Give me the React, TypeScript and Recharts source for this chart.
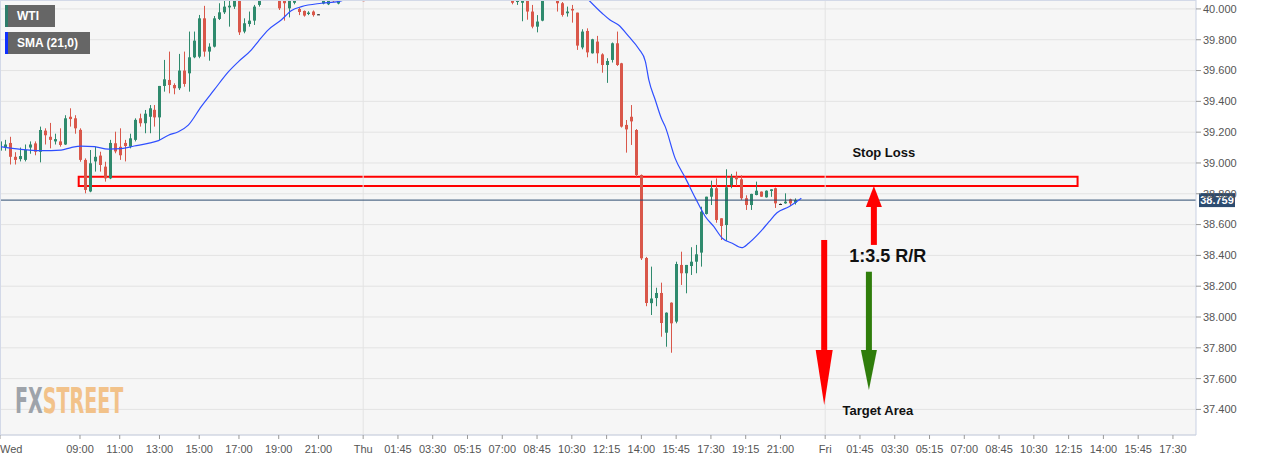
import {
  Bar,
  CartesianGrid,
  ComposedChart,
  Line,
  ReferenceArea,
  ReferenceDot,
  ReferenceLine,
  XAxis,
  YAxis,
} from "recharts";

// 15-minute slots; Wed 05:00 = slot 0, Thu 00:00 = slot 73, Fri 00:00 = slot 166
const candleSlot = [
  0, 1, 2, 3, 4, 5, 6, 7, 8, 9, 10, 11, 12, 13, 14, 15, 16, 17, 18, 19, 20, 21, 22, 23, 24, 25, 26,
  27, 28, 29, 30, 31, 32, 33, 34, 35, 36, 37, 38, 39, 40, 41, 42, 43, 44, 45, 46, 47, 48, 49, 50, 51,
  52, 56, 57, 58, 59, 60, 61, 62, 63, 64, 65, 66, 67, 68, 73, 103, 104, 105, 106, 107, 108, 109, 112,
  113, 114, 115, 116, 117, 118, 119, 120, 121, 122, 123, 124, 125, 126, 127, 128, 129, 130, 131, 132,
  133, 134, 135, 136, 137, 138, 139, 140, 141, 142, 143, 144, 145, 146, 147, 148, 149, 150, 151, 152,
  153, 154, 155, 156, 157, 158, 159, 160,
];
const candleOpen = [
  39.08, 39.1, 39.13, 39.04, 39.025, 39.02, 39.1, 39.127, 39.073, 39.21, 39.17, 39.14, 39.14, 39.12,
  39.3, 39.29, 39.215, 39.02, 38.815, 39.01, 39.048, 38.976, 38.9, 39.128, 39.105, 39.13, 39.106, 39.15,
  39.29, 39.258, 39.3, 39.345, 39.296, 39.5, 39.539, 39.506, 39.485, 39.6, 39.582, 39.686, 39.69,
  39.939, 39.723, 39.755, 39.935, 39.978, 40.01, 40.015, 40.08, 39.853, 39.902, 39.924, 40.026, 40.08,
  40.07, 40.004, 40.04, 40.0, 39.987, 39.967, 39.983, 39.965, 40.035, 40.03, 40.1, 40.035, 40.12, 40.06,
  40.045, 40.04, 40.07, 39.983, 39.885, 39.924, 40.09, 40.037, 39.972, 40.0, 39.976, 39.75, 39.857,
  39.712, 39.788, 39.705, 39.636, 39.669, 39.777, 39.647, 39.247, 39.3, 39.214, 38.922, 38.383, 38.09,
  38.123, 38.156, 37.898, 38.093, 37.97, 38.338, 38.284, 38.331, 38.359, 38.418, 38.669, 38.781,
  38.836, 38.641, 38.597, 38.857, 38.911, 38.894, 38.771, 38.727, 38.792, 38.814, 38.777, 38.818,
  38.836, 38.734, 38.738, 38.764, 38.742,
];
const candleHigh = [
  39.16, 39.15, 39.17, 39.07, 39.1, 39.12, 39.14, 39.14, 39.236, 39.225, 39.26, 39.19, 39.225, 39.31,
  39.355, 39.31, 39.225, 39.03, 39.084, 39.106, 39.073, 39.008, 39.15, 39.203, 39.225, 39.15, 39.19,
  39.29, 39.32, 39.344, 39.376, 39.376, 39.5, 39.669, 39.723, 39.517, 39.708, 39.723, 39.853, 39.853,
  39.961, 40.02, 39.777, 39.954, 40.037, 40.052, 40.06, 40.09, 40.1, 39.939, 39.983, 40.026, 40.1, 40.1,
  40.1, 40.1, 40.1, 40.01, 39.99, 39.985, 39.99, 39.967, 40.12, 40.1, 40.12, 40.12, 40.14, 40.07, 40.07,
  40.08, 40.09, 40.026, 39.96, 40.1, 40.12, 40.045, 40.015, 40.026, 39.976, 39.868, 39.874, 39.806,
  39.825, 39.712, 39.68, 39.782, 39.853, 39.65, 39.279, 39.376, 39.22, 38.925, 38.39, 38.327, 38.19,
  38.223, 38.03, 38.095, 38.359, 38.424, 38.338, 38.453, 38.468, 38.716, 38.781, 38.885, 38.9, 38.641,
  38.959, 38.929, 38.944, 38.92, 38.79, 38.8, 38.879, 38.815, 38.822, 38.829, 38.84, 38.736, 38.803,
  38.768, 38.77,
];
const candleLow = [
  39.04, 39.08, 38.99, 38.99, 39.01, 39.01, 39.06, 39.05, 39.004, 39.12, 39.095, 39.12, 39.106, 39.117,
  39.236, 39.19, 39.008, 38.803, 38.81, 38.944, 38.944, 38.879, 38.895, 39.063, 39.02, 39.01, 39.095,
  39.14, 39.236, 39.193, 39.193, 39.236, 39.149, 39.463, 39.452, 39.446, 39.474, 39.495, 39.463, 39.68,
  39.68, 39.69, 39.664, 39.75, 39.928, 39.967, 39.885, 40.0, 39.831, 39.842, 39.885, 39.896, 40.015,
  39.993, 39.924, 39.945, 40.03, 39.96, 39.95, 39.96, 39.95, 39.964, 40.03, 40.025, 40.045, 40.03,
  40.045, 40.03, 40.026, 39.92, 39.93, 39.874, 39.848, 39.92, 39.983, 39.95, 39.95, 39.911, 39.734,
  39.738, 39.686, 39.71, 39.647, 39.586, 39.52, 39.652, 39.63, 39.23, 39.067, 39.117, 38.91, 38.37,
  38.07, 38.013, 38.07, 37.872, 37.807, 37.768, 37.959, 38.208, 38.154, 38.273, 38.284, 38.327, 38.665,
  38.727, 38.612, 38.5, 38.495, 38.836, 38.851, 38.76, 38.695, 38.695, 38.79, 38.78, 38.775, 38.78,
  38.708, 38.732, 38.735, 38.72, 38.73,
];
const candleClose = [
  39.14, 39.12, 39.04, 39.02, 39.045, 39.085, 39.12, 39.073, 39.214, 39.18, 39.15, 39.155, 39.117, 39.29,
  39.285, 39.225, 39.02, 38.825, 38.998, 39.04, 38.987, 38.9, 39.13, 39.075, 39.05, 39.11, 39.16, 39.28,
  39.258, 39.32, 39.355, 39.296, 39.5, 39.543, 39.506, 39.485, 39.6, 39.513, 39.686, 39.794, 39.939,
  39.723, 39.755, 39.939, 39.978, 40.015, 40.021, 40.07, 39.848, 39.907, 39.924, 40.015, 40.07, 40.004,
  40.037, 40.07, 40.08, 39.98, 39.957, 39.976, 39.96, 39.965, 40.1, 40.09, 40.05, 40.1, 40.05, 40.04,
  40.055, 40.06, 39.983, 39.885, 39.918, 40.08, 40.037, 39.961, 39.983, 39.99, 39.762, 39.853, 39.718,
  39.803, 39.712, 39.636, 39.662, 39.777, 39.636, 39.236, 39.218, 39.27, 38.922, 38.381, 38.091, 38.12,
  38.156, 37.961, 38.028, 37.959, 38.344, 38.284, 38.338, 38.359, 38.407, 38.684, 38.781, 38.836, 38.63,
  38.591, 38.842, 38.907, 38.894, 38.771, 38.727, 38.799, 38.82, 38.781, 38.82, 38.829, 38.738, 38.734,
  38.749, 38.738, 38.759,
];

// SMA(21); null where it runs above the chart
const smaSlot = [
  0, 4.1, 8.2, 12.2, 14.2, 16.2, 18.9, 21.7, 24.3, 26.9, 29.7, 31.8, 33.8, 35.8, 37.8, 40.4, 43, 45.9,
  47.9, 50.5, 51.9, 53.9, 56.5, 58.6, 60.6, 64.6, 68, 69.3, 90, 118.4, 121.1, 122.7, 124.4, 126.5,
  128.5, 129.8, 130.5, 131.8, 133, 133.8, 135.8, 137.9, 139.9, 141.9, 143.6, 145.3, 147.3, 149.2,
  150.6, 152.7, 154.7, 156.3, 158.7, 161.2,
];
const smaValue = [
  39.106, 39.088, 39.08, 39.084, 39.1, 39.11, 39.106, 39.09, 39.093, 39.11, 39.127, 39.145, 39.18,
  39.203, 39.246, 39.366, 39.474, 39.593, 39.658, 39.734, 39.79, 39.864, 39.928, 39.99, 40.015, 40.037,
  40.048, 40.06, null, 40.058, 39.972, 39.928, 39.896, 39.82, 39.74, 39.66, 39.539, 39.409, 39.292,
  39.236, 39.03, 38.9, 38.77, 38.651, 38.586, 38.511, 38.479, 38.45, 38.479, 38.544, 38.619, 38.677,
  38.716, 38.771,
];

const tickSlot = [
  -0.1, 16, 24, 32, 40, 48, 56, 64, 73, 80, 87, 94, 101, 108, 115, 122, 129, 136, 143, 150, 157, 166,
  173, 180, 187, 194, 201, 208, 215, 222, 229, 236,
];
const tickLabel = [
  "Wed", "09:00", "11:00", "13:00", "15:00", "17:00", "19:00", "21:00", "Thu", "01:45", "03:30",
  "05:15", "07:00", "08:45", "10:30", "12:15", "14:00", "15:45", "17:30", "19:15", "21:00", "Fri",
  "01:45", "03:30", "05:15", "07:00", "08:45", "10:30", "12:15", "14:00", "15:45", "17:30",
];
const dayStarts = [73, 166];
const priceTicks = [
  37.4, 37.6, 37.8, 38.0, 38.2, 38.4, 38.6, 38.8, 39.0, 39.2, 39.4, 39.6, 39.8, 40.0,
];
const lastPrice = 38.759;

// trade idea drawn on the chart
const stopZone = { x1: 15.74, x2: 216.8, y1: 38.851, y2: 38.911 };
const stopLabel = { x: 177.8, y: 39.068 };
const rrLabel = { x: 178.6, y: 38.393 };
const targetLabel = { x: 176.6, y: 37.39 };
const targetArrow = { x: 165.8, from: 38.5, to: 37.429 };
const rewardArrow = { x: 174.8, from: 38.294, to: 37.526 };
const riskArrow = { x: 175.8, from: 38.468, to: 38.851 };

const GREEN = "#2f8a6d";
const RED = "#d9574a";
const FONT = "'Liberation Sans', Arial, sans-serif";

const candles = candleSlot.map((s, i) => ({
  s,
  o: candleOpen[i],
  h: candleHigh[i],
  l: candleLow[i],
  c: candleClose[i],
}));
const sma = smaSlot.map((s, i) => ({ s, v: smaValue[i] }));

function Candle(props: any) {
  const { x, y, width, height, payload } = props;
  const { o, h, l, c } = payload;
  const cx = Math.round(x + width / 2) + 0.5;
  const span = h - l;
  const yOf = (v: number) => (span > 0 ? y + ((h - v) / span) * height : y);
  const color = o === c ? "#222" : c > o ? GREEN : RED;
  const top = yOf(Math.max(o, c));
  const bot = yOf(Math.min(o, c));
  return (
    <g>
      <line x1={cx} x2={cx} y1={y} y2={y + height} stroke={color} strokeWidth={1} />
      <rect x={cx - 1.5} y={top} width={3} height={Math.max(bot - top, 1)} fill={color} />
    </g>
  );
}

const arrow =
  (color: string, head: number, headW: number, shaft: number) => (p: any) => {
    const { x1, y1, x2, y2 } = p;
    const dir = y2 > y1 ? 1 : -1;
    const hy = y2 - dir * head;
    return (
      <g>
        <rect
          x={x1 - shaft / 2}
          y={Math.min(y1, hy)}
          width={shaft}
          height={Math.abs(hy - y1)}
          fill={color}
        />
        <polygon
          points={`${x2 - headW / 2},${hy} ${x2 + headW / 2},${hy} ${x2},${y2}`}
          fill={color}
        />
      </g>
    );
  };

const note = (text: string, size: number) => (p: any) => (
  <text
    x={p.cx}
    y={p.cy}
    textAnchor="middle"
    dominantBaseline="central"
    fontFamily={FONT}
    fontWeight="bold"
    fontSize={size}
    fill="#111"
  >
    {text}
  </text>
);

function TimeTick(props: any) {
  const { x, y, payload } = props;
  const i = tickSlot.indexOf(payload.value);
  return (
    <text
      x={i === 0 ? 0 : x}
      y={y}
      dy={9}
      textAnchor={i === 0 ? "start" : "middle"}
      fontFamily={FONT}
      fontSize={11}
      fill="#555"
    >
      {tickLabel[i]}
    </text>
  );
}

function PriceTag(props: any) {
  const { viewBox } = props;
  const x = viewBox.x + viewBox.width + 3;
  const y = viewBox.y;
  return (
    <g>
      <rect x={x} y={y - 7} width={36} height={14} fill="#2c4b70" />
      <text
        x={x + 18}
        y={y}
        textAnchor="middle"
        dominantBaseline="central"
        fontFamily={FONT}
        fontWeight="bold"
        fontSize={11}
        fill="#fff"
      >
        {lastPrice.toFixed(3)}
      </text>
    </g>
  );
}

const legendBox = (label: string, strip: string, top: number, width: number) => (
  <div
    style={{
      position: "absolute",
      left: 5,
      top,
      width,
      height: 22,
      background: "#666",
      borderLeft: `3px solid ${strip}`,
      boxSizing: "border-box",
      color: "#fff",
      fontFamily: FONT,
      fontWeight: "bold",
      fontSize: 12,
      lineHeight: "22px",
      paddingLeft: 9,
    }}
  >
    {label}
  </div>
);

export default function App() {
  return (
    <div
      style={{
        position: "absolute",
        left: 0,
        top: 0,
        width: 1267,
        height: 460,
        background: "#fff",
      }}
    >
      <ComposedChart
        width={1267}
        height={460}
        data={candles}
        margin={{ top: 0, right: 0, bottom: 0, left: 0 }}
      >
        <CartesianGrid vertical={false} stroke="#e3e3e3" fill="#f6f6f6" />
        <XAxis
          dataKey="s"
          type="number"
          domain={[-0.1, 240.64]}
          ticks={tickSlot}
          interval={0}
          tick={<TimeTick />}
          tickSize={4}
          tickMargin={5}
          height={25}
          axisLine={{ stroke: "#c9d1e3" }}
          tickLine={{ stroke: "#999" }}
        />
        <YAxis
          orientation="right"
          type="number"
          domain={[37.234, 40.058]}
          allowDataOverflow
          ticks={priceTicks}
          tickFormatter={(v: number) => v.toFixed(3)}
          tick={{ fontSize: 11, fill: "#555", fontFamily: FONT }}
          tickSize={5}
          tickMargin={2}
          width={71}
          axisLine={{ stroke: "#c9d1e3" }}
          tickLine={{ stroke: "#999" }}
        />
        {dayStarts.map((d) => (
          <ReferenceLine key={d} x={d} stroke="#e3e3e3" />
        ))}
        <ReferenceLine y={lastPrice} stroke="#2b4a6f" label={<PriceTag />} />
        <Bar
          dataKey={(d: any) => [d.l, d.h]}
          barSize={5}
          shape={<Candle />}
          isAnimationActive={false}
        />
        <Line
          data={sma}
          dataKey="v"
          type="monotone"
          stroke="#2f4fff"
          strokeWidth={1.2}
          dot={false}
          activeDot={false}
          isAnimationActive={false}
        />
        <ReferenceArea
          x1={stopZone.x1}
          x2={stopZone.x2}
          y1={stopZone.y1}
          y2={stopZone.y2}
          fill="none"
          fillOpacity={0}
          stroke="#ff0000"
          strokeWidth={2}
        />
        <ReferenceLine
          segment={[
            { x: targetArrow.x, y: targetArrow.from },
            { x: targetArrow.x, y: targetArrow.to },
          ]}
          shape={arrow("#ff0000", 55, 17, 6)}
        />
        <ReferenceLine
          segment={[
            { x: rewardArrow.x, y: rewardArrow.from },
            { x: rewardArrow.x, y: rewardArrow.to },
          ]}
          shape={arrow("#2f7d0b", 40, 16, 6)}
        />
        <ReferenceLine
          segment={[
            { x: riskArrow.x, y: riskArrow.from },
            { x: riskArrow.x, y: riskArrow.to },
          ]}
          shape={arrow("#ff0000", 21, 16, 6)}
        />
        <ReferenceDot x={stopLabel.x} y={stopLabel.y} r={0} shape={note("Stop Loss", 13)} />
        <ReferenceDot x={rrLabel.x} y={rrLabel.y} r={0} shape={note("1:3.5 R/R", 18)} />
        <ReferenceDot x={targetLabel.x} y={targetLabel.y} r={0} shape={note("Target Area", 13)} />
      </ComposedChart>
      {legendBox("WTI", "#2e7d6a", 5, 50)}
      {legendBox("SMA (21,0)", "#1030ff", 32, 85)}
      <div
        style={{
          position: "absolute",
          left: 15,
          top: 381,
          fontFamily: "'DejaVu Sans', sans-serif",
          fontWeight: "bold",
          fontSize: 36,
          lineHeight: "40px",
          transform: "scaleX(0.53)",
          transformOrigin: "left top",
          letterSpacing: 0,
          pointerEvents: "none",
        }}
      >
        <span style={{ color: "#9ea3aa" }}>FX</span>
        <span style={{ color: "#f2c28a" }}>STREET</span>
      </div>
      <div
        style={{
          position: "absolute",
          left: 0,
          top: 0,
          width: 1196,
          height: 435,
          borderLeft: "1px solid #d3d9e8",
          borderTop: "1px solid #d3d9e8",
          boxSizing: "border-box",
          pointerEvents: "none",
        }}
      />
    </div>
  );
}
